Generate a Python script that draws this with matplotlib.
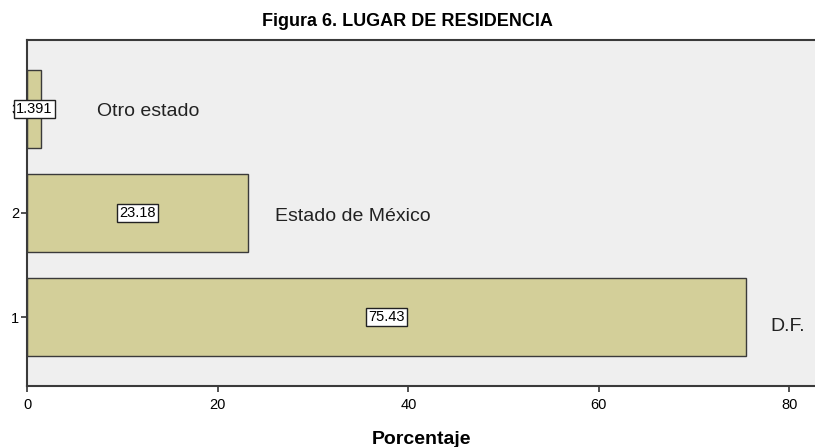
import numpy as np
import matplotlib.pyplot as plt

plt.rcParams['font.family'] = ['Liberation Sans', 'DejaVu Sans']

positions = [1, 2, 3]
values = [75.43, 23.18, 1.391]
value_labels = ['75.43', '23.18', '1.391']
categories = ['D.F.', 'Estado de México', 'Otro estado']

# where each category name sits (left edge in x, shift in y)
name_x = [78.0, 26.0, 7.3]
name_dy = [-0.087, -0.035, -0.02]

fig = plt.figure(figsize=(8.15, 4.47), dpi=100)
ax = fig.add_axes([0.0337, 0.1365, 0.9663, 0.774])
ax.set_facecolor('#efefef')

ax.barh(positions, values, height=0.75, color='#d3cf99',
        edgecolor='#3a3a3a', linewidth=1.0, zorder=2)

for p, v, lab in zip(positions, values, value_labels):
    ax.text(v / 2, p, lab, ha='center', va='center', fontsize=10.5,
            zorder=4,
            bbox=dict(boxstyle='square,pad=0.15', facecolor='white',
                      edgecolor='#222222', linewidth=1.0))

for p, x, dy, name in zip(positions, name_x, name_dy, categories):
    ax.text(x, p + dy, name, ha='left', va='center', fontsize=14,
            color='#222222', zorder=3)

ax.set_xlim(0, 82.7)
ax.set_ylim(0.337, 3.663)
ax.set_xticks([0, 20, 40, 60, 80])
ax.set_yticks(positions)
ax.set_yticklabels(['1', '2', '3'])
ax.tick_params(axis='both', direction='out', length=4, width=1.2,
               color='#333333', labelsize=10.5)
ax.tick_params(axis='x', pad=5)
ax.tick_params(axis='y', pad=2)

for side in ['left', 'bottom', 'top']:
    ax.spines[side].set_color('#3a3a3a')
    ax.spines[side].set_linewidth(1.5)
ax.spines['right'].set_visible(False)

ax.set_xlabel('Porcentaje', fontsize=14, fontweight='bold', labelpad=13)
fig.text(0.4994, 0.951, 'Figura 6. LUGAR DE RESIDENCIA', ha='center',
         va='center', fontsize=13, fontweight='bold')

fig.savefig('out.png', dpi=100)
